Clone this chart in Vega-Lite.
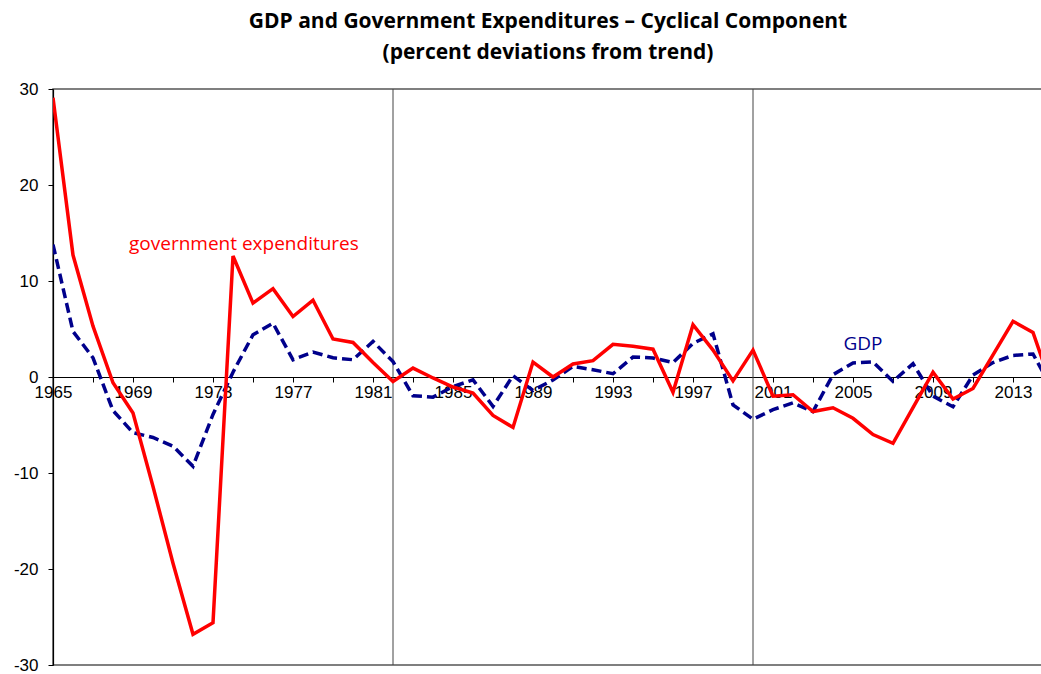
{
  "$schema": "https://vega.github.io/schema/vega-lite/v6.json",
  "autosize": {"type": "none"},
  "padding": {"left": 53, "top": 89, "right": 0, "bottom": 9},
  "width": 990,
  "height": 576,
  "background": "white",
  "config": {
    "view": {"stroke": "#555555", "strokeWidth": 1.5},
    "axis": {"labelFont": "Liberation Sans", "labelFontSize": 17, "labelColor": "#000000", "domainColor": "#000000", "tickColor": "#000000", "grid": false, "title": null}
  },
  "title": {
    "text": ["GDP and Government Expenditures – Cyclical Component", "(percent deviations from trend)"],
    "font": "Open Sans",
    "fontWeight": "bold",
    "fontSize": 21,
    "lineHeight": 31,
    "color": "#000000",
    "anchor": "middle",
    "baseline": "bottom",
    "offset": -4
  },
  "data": {
    "values": [
      {"year": 1965, "gov": 29.1, "gdp": 13.8},
      {"year": 1966, "gov": 12.7, "gdp": 4.75},
      {"year": 1967, "gov": 5.3, "gdp": 2.0},
      {"year": 1968, "gov": -0.6, "gdp": -3.5},
      {"year": 1969, "gov": -3.75, "gdp": -5.8},
      {"year": 1970, "gov": -11.4, "gdp": -6.3},
      {"year": 1971, "gov": -19.4, "gdp": -7.2},
      {"year": 1972, "gov": -26.8, "gdp": -9.3},
      {"year": 1973, "gov": -25.6, "gdp": -3.9},
      {"year": 1974, "gov": 12.6, "gdp": 0.5},
      {"year": 1975, "gov": 7.7, "gdp": 4.4},
      {"year": 1976, "gov": 9.2, "gdp": 5.6},
      {"year": 1977, "gov": 6.3, "gdp": 1.8},
      {"year": 1978, "gov": 8.0, "gdp": 2.6},
      {"year": 1979, "gov": 3.96, "gdp": 2.0},
      {"year": 1980, "gov": 3.6, "gdp": 1.8},
      {"year": 1981, "gov": 1.5, "gdp": 3.7},
      {"year": 1982, "gov": -0.46, "gdp": 1.6},
      {"year": 1983, "gov": 0.93, "gdp": -1.95},
      {"year": 1984, "gov": -0.1, "gdp": -2.1},
      {"year": 1985, "gov": -1.04, "gdp": -1.0},
      {"year": 1986, "gov": -1.67, "gdp": -0.3},
      {"year": 1987, "gov": -4.0, "gdp": -3.06},
      {"year": 1988, "gov": -5.25, "gdp": 0.14},
      {"year": 1989, "gov": 1.56, "gdp": -1.4},
      {"year": 1990, "gov": 0.0, "gdp": -0.3},
      {"year": 1991, "gov": 1.35, "gdp": 1.1},
      {"year": 1992, "gov": 1.7, "gdp": 0.76},
      {"year": 1993, "gov": 3.4, "gdp": 0.34},
      {"year": 1994, "gov": 3.2, "gdp": 2.08},
      {"year": 1995, "gov": 2.9, "gdp": 1.98},
      {"year": 1996, "gov": -1.6, "gdp": 1.5},
      {"year": 1997, "gov": 5.45, "gdp": 3.5},
      {"year": 1998, "gov": 2.8, "gdp": 4.5},
      {"year": 1999, "gov": -0.4, "gdp": -2.9},
      {"year": 2000, "gov": 2.8, "gdp": -4.4},
      {"year": 2001, "gov": -2.0, "gdp": -3.4},
      {"year": 2002, "gov": -1.85, "gdp": -2.7},
      {"year": 2003, "gov": -3.6, "gdp": -3.6},
      {"year": 2004, "gov": -3.2, "gdp": 0.24},
      {"year": 2005, "gov": -4.3, "gdp": 1.46},
      {"year": 2006, "gov": -6.0, "gdp": 1.56},
      {"year": 2007, "gov": -6.9, "gdp": -0.46},
      {"year": 2008, "gov": -3.2, "gdp": 1.39},
      {"year": 2009, "gov": 0.5, "gdp": -2.0},
      {"year": 2010, "gov": -2.3, "gdp": -3.1},
      {"year": 2011, "gov": -1.2, "gdp": 0.2},
      {"year": 2012, "gov": 2.3, "gdp": 1.5},
      {"year": 2013, "gov": 5.8, "gdp": 2.25},
      {"year": 2014, "gov": 4.65, "gdp": 2.4},
      {"year": 2015, "gov": -1.4, "gdp": -1.4}
    ]
  },
  "encoding": {
    "x": {
      "field": "year",
      "type": "quantitative",
      "scale": {"domain": [1965, 2014.5], "nice": false, "zero": false},
      "axis": {
        "offset": -288,
        "values": [1965, 1967, 1969, 1971, 1973, 1975, 1977, 1979, 1981, 1983, 1985, 1987, 1989, 1991, 1993, 1995, 1997, 1999, 2001, 2003, 2005, 2007, 2009, 2011, 2013],
        "labelExpr": "(datum.value - 1965) % 4 == 0 ? '' + datum.value : ''",
        "labelOverlap": false,
        "labelFlush": false,
        "tickSize": 5,
        "labelPadding": 2,
        "domainWidth": 1.2
      }
    }
  },
  "layer": [
    {
      "data": {"values": [{"break": 1982}, {"break": 2000}]},
      "mark": {"type": "rule", "color": "#444444", "strokeWidth": 1},
      "encoding": {"x": {"field": "break", "type": "quantitative"}}
    },
    {
      "mark": {"type": "line", "color": "#00008B", "strokeWidth": 3.5, "strokeDash": [10, 5], "clip": true},
      "encoding": {
        "y": {
          "field": "gdp",
          "type": "quantitative",
          "scale": {"domain": [-30, 30], "nice": false},
          "axis": {"values": [-30, -20, -10, 0, 10, 20, 30], "labelExpr": "'' + datum.value", "tickSize": 5, "labelPadding": 10, "domainWidth": 1.2}
        }
      }
    },
    {
      "mark": {"type": "line", "color": "#FF0000", "strokeWidth": 3.5, "clip": true},
      "encoding": {"y": {"field": "gov", "type": "quantitative"}}
    },
    {
      "transform": [{"filter": "datum.year == 1965"}],
      "mark": {"type": "text", "text": "government expenditures", "font": "Open Sans", "fontWeight": "normal", "fontSize": 19, "color": "#FF0000", "align": "left", "baseline": "middle"},
      "encoding": {"x": {"datum": 1968.8}, "y": {"datum": 13.9}}
    },
    {
      "transform": [{"filter": "datum.year == 1965"}],
      "mark": {"type": "text", "text": "GDP", "font": "Open Sans", "fontWeight": "normal", "fontSize": 19, "color": "#00008B", "align": "center", "baseline": "middle"},
      "encoding": {"x": {"datum": 2005.5}, "y": {"datum": 3.4}}
    }
  ]
}
